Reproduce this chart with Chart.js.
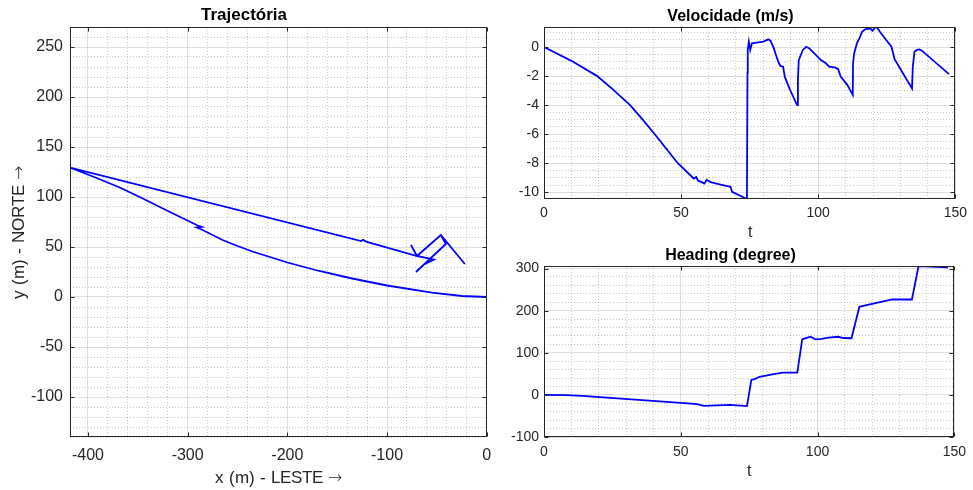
<!DOCTYPE html>
<html>
<head>
<meta charset="utf-8">
<title>Trajectória</title>
<script src="https://cdn.jsdelivr.net/npm/chart.js@4.4.1/dist/chart.umd.min.js"></script>
<style>
  /* axis labels: Liberation Sans text, thin DejaVu arrow */
  @font-face { font-family: 'AxLabel'; src: local('Liberation Sans'); }
  @font-face { font-family: 'AxLabel'; src: local('DejaVu Sans ExtraLight'), local('DejaVuSans-ExtraLight'); unicode-range: U+2190-21FF; }
  html, body { margin: 0; padding: 0; background: #fff; }
  body { width: 973px; height: 490px; position: relative; overflow: hidden; }
  canvas { position: absolute; }
  #traj { left: 0; top: 0; }
  #vel { left: 500px; top: 0; }
  #head { left: 500px; top: 245px; }
</style>
</head>
<body>
<canvas id="traj" width="500" height="490"></canvas>
<canvas id="vel" width="473" height="245"></canvas>
<canvas id="head" width="473" height="245"></canvas>
<script>
// trajectory, x = east (m), y = north (m)
const trajX = [0, -25, -55, -100, -135, -168, -200, -235, -250, -265, -286, -291, -286, -290, -308, -333, -345, -368, -395, -418,
  -126, -124, -121, -70, -76, -70, -53, -63, -71, -41, -46, -70, -46, -22];
const trajY = [0, 1, 4.3, 11.5, 18.5, 26, 34.5, 45.5, 51, 57, 67.5, 69.5, 70.2, 71.5, 80.3, 92.5, 98.5, 109.5, 120.5, 129.5,
  56, 57.2, 55.4, 41, 52, 41, 37.5, 32.5, 25, 53, 62, 41, 62, 33];
const trajXTicks = [-400, -300, -200, -100, 0];
const trajYTicks = [-100, -50, 0, 50, 100, 150, 200, 250];

// velocity (m/s) against t
const tVel = [0, 10, 19.4, 25, 31.4, 36, 40.4, 44.6, 48.8, 54.6, 55.5, 56.2, 57.5, 58.5, 59.3, 60.8, 64, 68, 68.6, 74,
  74.2, 74.3, 74.7, 75.2, 75.8, 77.6, 80, 81.8, 82.6, 83.6, 85.4, 86.2, 87.2, 87.8, 89.6, 92.3,
  92.6, 92.9, 93.4, 94.4, 95.6, 96.8, 99.2, 101, 102.8, 104, 106.4, 107.3, 108.2, 110.6, 112.6,
  112.7, 113.1, 114.1, 115, 116, 117.1, 119, 119.8, 120.7, 121.3, 122.5, 124.3, 126.7, 127.9, 134.2,
  134.5, 135.1, 136, 136.9, 137.8, 147.7];
const velocity = [0, -0.95, -2, -2.9, -4, -5, -6, -7, -8, -9.05, -8.95, -9.2, -9.3, -9.4, -9.15, -9.3, -9.45, -9.62, -9.97, -10.46,
  -1.8, -0.2, 0.37, -0.2, 0.25, 0.3, 0.37, 0.53, 0.44, 0.02, -1, -1.3, -1.35, -2.04, -2.9, -4,
  -2.27, -0.9, -0.67, -0.2, 0.02, -0.1, -0.55, -0.9, -1.12, -1.35, -1.42, -1.54, -2.04, -2.6, -3.3,
  -1.12, -0.44, 0.25, 0.6, 1.05, 1.22, 1.28, 1.12, 1.35, 1.38, 1.05, 0.6, 0.02, -0.85, -2.85,
  -1.35, -0.32, -0.2, -0.16, -0.25, -1.86];
const velXTicks = [0, 50, 100, 150];
const velYTicks = [-10, -8, -6, -4, -2, 0];

// heading (degree) against t
const tHead = [0, 8, 14, 32, 50, 56, 58.4, 68, 74.2, 75.8, 77, 78.8, 83, 87.2, 92.6, 94.4, 97.4, 99.2, 101.5, 104,
  107.6, 109.4, 112.4, 115.3, 117.1, 127.3, 134.5, 136.9, 147.7];
const heading = [0, -0.6, -2.2, -10.7, -19, -22, -26, -23.5, -26.5, 35.5, 37.5, 43, 48, 53, 53, 132, 138, 132, 133, 136,
  138, 135, 134.5, 209, 212, 226.5, 226.5, 305.5, 303];
const headXTicks = [0, 50, 100, 150];
const headYTicks = [-100, 0, 100, 200, 300];

const FONT = '"Liberation Sans", Arial, Helvetica, sans-serif';
const LABEL_FONT = 'AxLabel, "Liberation Sans", Arial, sans-serif';
const INK = '#262626';
const GRID = 'rgba(38,38,38,0.15)';
const MINOR = 'rgba(26,26,26,0.24)';

function gridSteps(min, max, step) {
  const out = [];
  for (let v = Math.ceil(min / step) * step; v <= max + 1e-9; v += step) out.push({value: +v.toFixed(6)});
  return out;
}

// MATLAB style box with inward tick marks
const axesBox = {
  id: 'axesBox',
  afterDraw(chart) {
    const {ctx, chartArea: a, scales} = chart;
    const l = Math.round(a.left) + 0.5, r = Math.round(a.right) - 0.5;
    const t = Math.round(a.top) + 0.5, b = Math.round(a.bottom) - 0.5;
    ctx.save();
    ctx.strokeStyle = INK;
    ctx.lineWidth = 1;
    ctx.strokeRect(l, t, r - l, b - t);
    ctx.beginPath();
    scales.x.ticks.forEach(tk => {
      const p = Math.round(scales.x.getPixelForValue(tk.value)) + 0.5;
      ctx.moveTo(p, b); ctx.lineTo(p, b - 4);
      ctx.moveTo(p, t); ctx.lineTo(p, t + 4);
    });
    scales.y.ticks.forEach(tk => {
      const p = Math.round(scales.y.getPixelForValue(tk.value)) + 0.5;
      ctx.moveTo(l, p); ctx.lineTo(l + 4, p);
      ctx.moveTo(r, p); ctx.lineTo(r - 4, p);
    });
    ctx.stroke();
    ctx.restore();
  }
};

function makeChart(id, o) {
  const points = o.x.map((v, i) => ({x: v, y: o.y[i]}));
  const isMajor = (list, v) => list.some(m => Math.abs(m - v) < 1e-6);
  return new Chart(document.getElementById(id).getContext('2d'), {
    type: 'scatter',
    data: {
      datasets: [{
        data: points,
        showLine: true,
        borderColor: '#0000ff',
        borderWidth: 1.8,
        pointRadius: 0,
        tension: 0
      }]
    },
    options: {
      responsive: false,
      animation: false,
      layout: {padding: {left: 0, top: 0, right: o.padRight, bottom: 0}},
      plugins: {
        legend: {display: false},
        tooltip: {enabled: false},
        title: {
          display: true,
          text: o.title,
          color: '#000',
          font: {family: FONT, size: o.titleSize, weight: 'bold'},
          padding: o.titlePad
        }
      },
      scales: {
        x: {
          type: 'linear', position: 'bottom', min: o.xMin, max: o.xMax,
          afterBuildTicks: s => { s.ticks = o.xTicks.map(v => ({value: v})); },
          afterFit: s => { s.height = o.xAxisH; },
          grid: {color: GRID, drawTicks: false},
          border: {display: false},
          ticks: {color: INK, font: {family: FONT, size: o.tickSize}, padding: o.xTickPad, maxRotation: 0,
            callback: v => String(v)},
          title: {display: true, text: o.xLabel, color: INK, font: {family: LABEL_FONT, size: o.labelSize},
            padding: {top: 0, bottom: o.xLabelPad}}
        },
        y: {
          type: 'linear', position: 'left', min: o.yMin, max: o.yMax,
          afterBuildTicks: s => { s.ticks = o.yTicks.map(v => ({value: v})); },
          afterFit: s => { s.width = o.yAxisW; },
          grid: {color: GRID, drawTicks: false},
          border: {display: false},
          ticks: {color: INK, font: {family: FONT, size: o.tickSize}, padding: o.yTickPad,
            callback: v => String(v)},
          title: {display: !!o.yLabel, text: o.yLabel || '', color: INK, font: {family: LABEL_FONT, size: o.labelSize},
            padding: {top: 8.8, bottom: 0}}
        },
        xMinor: {
          type: 'linear', position: 'bottom', min: o.xMin, max: o.xMax,
          afterBuildTicks: s => { s.ticks = gridSteps(o.xMin, o.xMax, o.xMinor); },
          afterFit: s => { s.height = 0; },
          grid: {drawTicks: false, z: -2,
            color: c => isMajor(o.xTicks, c.tick.value) ? 'rgba(0,0,0,0)' : MINOR},
          border: {display: false, dash: [1, 2]},
          ticks: {display: false}
        },
        yMinor: {
          type: 'linear', position: 'left', min: o.yMin, max: o.yMax,
          afterBuildTicks: s => { s.ticks = gridSteps(o.yMin, o.yMax, o.yMinor); },
          afterFit: s => { s.width = 0; },
          grid: {drawTicks: false, z: -2,
            color: c => isMajor(o.yTicks, c.tick.value) ? 'rgba(0,0,0,0)' : MINOR},
          border: {display: false, dash: [1, 2]},
          ticks: {display: false}
        }
      }
    },
    plugins: [axesBox]
  });
}

function drawAll() {
  makeChart('traj', {
    x: trajX, y: trajY, title: 'Trajectória',
    xMin: -418, xMax: 0, yMin: -140, yMax: 270,
    xTicks: trajXTicks, yTicks: trajYTicks, xMinor: 20, yMinor: 10,
    xLabel: 'x (m) - LESTE \u2192', yLabel: 'y (m) - NORTE \u2192',
    titleSize: 17, tickSize: 16, labelSize: 17,
    padRight: 12, titlePad: {top: 5, bottom: 1.6},
    xAxisH: 53, yAxisW: 70, xTickPad: 8.8, yTickPad: 7, xLabelPad: 1.4
  });

  makeChart('vel', {
    x: tVel, y: velocity, title: 'Velocidade (m/s)',
    xMin: 0, xMax: 150, yMin: -10.46, yMax: 1.38,
    xTicks: velXTicks, yTicks: velYTicks, xMinor: 10, yMinor: 0.5,
    xLabel: 't',
    titleSize: 16, tickSize: 14, labelSize: 16,
    padRight: 12, titlePad: {top: 6.5, bottom: 1.3},
    xAxisH: 46, yAxisW: 44, xTickPad: 6, yTickPad: 5, xLabelPad: 2.4
  });

  makeChart('head', {
    x: tHead, y: heading, title: 'Heading (degree)',
    xMin: 0, xMax: 150, yMin: -100, yMax: 306,
    xTicks: headXTicks, yTicks: headYTicks, xMinor: 10, yMinor: 20,
    xLabel: 't',
    titleSize: 16, tickSize: 14, labelSize: 16,
    padRight: 12, titlePad: {top: 0.5, bottom: 1.3},
    xAxisH: 53, yAxisW: 44, xTickPad: 7, yTickPad: 5, xLabelPad: 8.7
  });
}

Promise.all([
  document.fonts.load('17px AxLabel', 'x (m) - LESTE \u2192'),
  document.fonts.load('16px AxLabel', 't')
]).then(drawAll, drawAll);
</script>
</body>
</html>
